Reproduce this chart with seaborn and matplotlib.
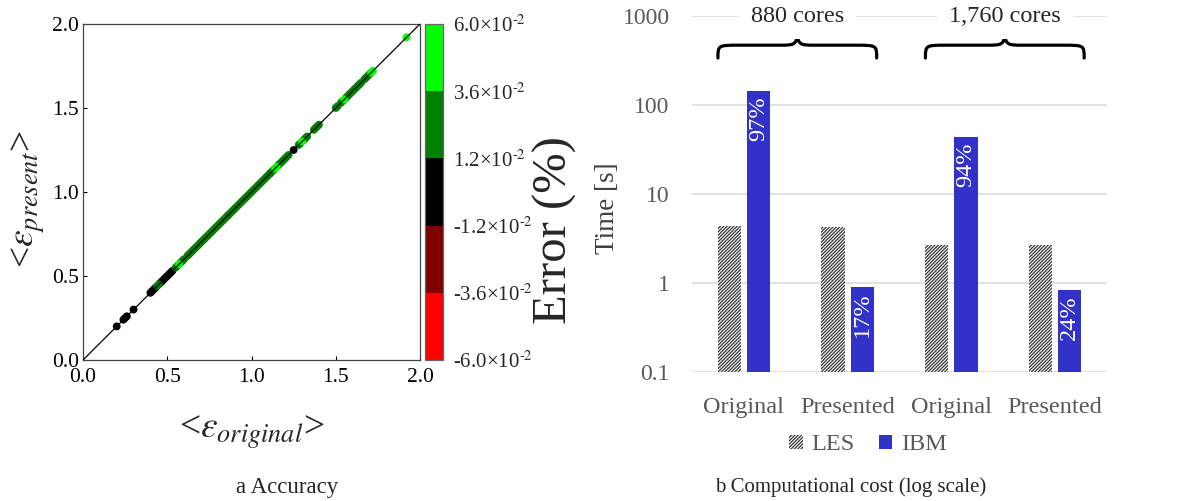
import numpy as np
import pandas as pd
import seaborn as sns
import matplotlib.pyplot as plt
from matplotlib.colors import ListedColormap, BoundaryNorm
from matplotlib.cm import ScalarMappable
from matplotlib.patches import Patch, PathPatch
from matplotlib.path import Path
from matplotlib.transforms import blended_transform_factory

# ---- panel a data: <eps_original> per point, grouped by error band ----
black_pts = [0.20, 0.24, 0.25, 0.26, 0.30, 0.40, 0.41, 0.42, 0.43, 0.46, 0.47,
             0.48, 0.49, 0.50, 0.51, 0.52, 0.53, 0.86, 1.11, 1.25]
dark_green_pts = [0.44, 0.45, 0.55, 0.56, 0.58, 0.59, 0.60, 0.62, 0.63, 0.64, 0.65,
                  0.66, 0.67, 0.68, 0.69, 0.70, 0.71, 0.72, 0.73, 0.74, 0.75, 0.76,
                  0.77, 0.78, 0.79, 0.80, 0.81, 0.82, 0.83, 0.84, 0.85, 0.87, 0.88,
                  0.89, 0.90, 0.91, 0.92, 0.93, 0.94, 0.95, 0.96, 0.97, 0.98, 0.99,
                  1.00, 1.01, 1.02, 1.03, 1.04, 1.05, 1.06, 1.07, 1.08, 1.09, 1.10,
                  1.12, 1.13, 1.16, 1.17, 1.18, 1.19, 1.20, 1.21, 1.22, 1.28, 1.29,
                  1.31, 1.32, 1.33, 1.37, 1.38, 1.39, 1.40, 1.50, 1.51, 1.53, 1.54,
                  1.56, 1.57, 1.58, 1.59, 1.60, 1.61, 1.62, 1.63, 1.64, 1.65, 1.67,
                  1.68, 1.69, 1.70]
bright_green_pts = [0.57, 1.14, 1.15, 1.30, 1.55, 1.71, 1.72, 1.92]
band_error = {'black': 0.0, 'dark_green': 0.024, 'bright_green': 0.045}  # error in %

cbar_bounds = [-0.06, -0.036, -0.012, 0.012, 0.036, 0.06]
cbar_colors = ['#ff0000', '#800000', '#000000', '#008000', '#00ff00']
cbar_labels = ['-6.0×10$^{\\text{-}2}$', '-3.6×10$^{\\text{-}2}$', '-1.2×10$^{\\text{-}2}$',
               '1.2×10$^{\\text{-}2}$', '3.6×10$^{\\text{-}2}$', '6.0×10$^{\\text{-}2}$']

# ---- panel b data ----
cases = ['Original 880', 'Presented 880', 'Original 1760', 'Presented 1760']
case_labels = ['Original', 'Presented', 'Original', 'Presented']
les_time = [4.35, 4.3, 2.65, 2.65]
ibm_time = [143, 0.90, 43.5, 0.83]
ibm_share = ['97%', '17%', '94%', '24%']
core_groups = ['880 cores', '1,760 cores']

sns.set_style('white')
plt.rcParams['font.family'] = ['Liberation Serif', 'DejaVu Serif']
plt.rcParams['mathtext.fontset'] = 'stix'
plt.rcParams['hatch.linewidth'] = 0.9
plt.rcParams['hatch.color'] = '#333333'

W, H = 1184, 501
fig = plt.figure(figsize=(W / 100, H / 100), dpi=100)
ax1 = fig.add_axes([83 / W, 1 - 360 / H, 337 / W, 336 / H])
cax = fig.add_axes([425 / W, 1 - 360 / H, 18 / W, 336 / H])
ax2 = fig.add_axes([692 / W, 1 - 372 / H, 415 / W, 356 / H])

# ---------------- panel a ----------------
rows = []
for band, pts in [('black', black_pts), ('dark_green', dark_green_pts),
                  ('bright_green', bright_green_pts)]:
    for v in pts:
        rows.append({'original': v, 'present': v * (1 + band_error[band] / 100), 'band': band})
acc = pd.DataFrame(rows)
band_colors = {'black': '#000000', 'dark_green': '#008000', 'bright_green': '#00ff00'}
sns.scatterplot(data=acc, x='original', y='present', hue='band', palette=band_colors,
                s=32, linewidth=0, legend=False, ax=ax1, zorder=2)
lims = [0.0, 2.0]
ax1.plot(lims, lims, color='black', lw=0.9, zorder=3)
ax1.set_xlim(lims)
ax1.set_ylim(lims)
ticks = np.arange(0, 2.01, 0.5)
ax1.set_xticks(ticks)
ax1.set_yticks(ticks)
ax1.set_xticklabels([f'{t:.1f}' for t in ticks])
ax1.set_yticklabels([f'{t:.1f}' for t in ticks])
ax1.tick_params(direction='in', length=3, width=0.8, labelsize=15.5,
                colors='black', top=False, right=False, bottom=True, left=True)
ax1.tick_params(axis='x', pad=6)
ax1.tick_params(axis='y', pad=3)
for sp in ax1.spines.values():
    sp.set_color('#444444')
    sp.set_linewidth(0.9)
ax1.set_xlabel('')
ax1.set_ylabel('')
fig.text(252 / W, 1 - 432 / H, r'<$\varepsilon_{original}$>', fontsize=27,
         ha='center', va='center')
fig.text(28 / W, 1 - 199 / H, r'<$\varepsilon_{present}$>', fontsize=27,
         ha='center', va='center', rotation=90)

cmap = ListedColormap(cbar_colors)
norm = BoundaryNorm(cbar_bounds, cmap.N)
cb = fig.colorbar(ScalarMappable(norm=norm, cmap=cmap), cax=cax, ticks=cbar_bounds)
cb.set_ticklabels(cbar_labels)
cax.tick_params(length=0, pad=7, labelsize=15)
cb.outline.set_edgecolor('#666666')
cb.outline.set_linewidth(0.9)
fig.text(555 / W, 1 - 230 / H, 'Error (%)', fontsize=35, rotation=90,
         ha='center', va='center')
fig.text(287 / W, 1 - 488 / H, 'a Accuracy', fontsize=16.5, ha='center', va='center')

# ---------------- panel b ----------------
cost = pd.DataFrame({
    'case': cases * 2,
    'solver': ['LES'] * 4 + ['IBM'] * 4,
    'time': les_time + ibm_time,
})
ibm_blue = '#3232c8'
sns.barplot(data=cost, x='case', y='time', hue='solver', order=cases,
            hue_order=['LES', 'IBM'], palette={'LES': 'white', 'IBM': ibm_blue},
            saturation=1, width=0.56, gap=0.2, legend=False, ax=ax2, zorder=2)
ax2.set_yscale('log')
ax2.set_ylim(0.1, 1000)
ax2.set_xlim(-0.5, 3.5)
for bar in ax2.containers[0]:
    bar.set_hatch('//////////')
    bar.set_edgecolor('#333333')
    bar.set_linewidth(0)
for bar in ax2.containers[1]:
    bar.set_edgecolor(ibm_blue)
    bar.set_linewidth(0)
for bar, lab in zip(ax2.containers[1], ibm_share):
    ax2.annotate(lab, xy=(bar.get_x() + bar.get_width() / 2, bar.get_height()),
                 xytext=(0, -4), textcoords='offset points', rotation=90,
                 ha='center', va='top', color='white', fontsize=17.5, zorder=4)

ax2.set_yticks([0.1, 1, 10, 100, 1000])
ax2.set_yticklabels(['0.1', '1', '10', '100', '1000'])
ax2.yaxis.set_minor_locator(plt.NullLocator())
ax2.set_xticks(range(len(cases)))
ax2.set_xticklabels(case_labels)
ax2.tick_params(axis='y', length=0, pad=16, labelsize=17, colors='#595959')
ax2.tick_params(axis='x', length=0, pad=18, labelsize=17.5, colors='#595959')
ax2.grid(axis='y', color='#dcdcdc', lw=1.2, zorder=0)
ax2.set_axisbelow(True)
sns.despine(ax=ax2, left=True, bottom=True)
ax2.set_xlabel('')
ax2.set_ylabel('')
fig.text(607 / W, 1 - 208 / H, 'Time [s]', fontsize=19.5, rotation=90,
         ha='center', va='center', color='#404040')

# group braces and core labels
tr = blended_transform_factory(ax2.transData, ax2.transAxes)
y_end, y_mid, y_tip = 0.882, 0.918, 0.958
r_end, r_mid = 0.21, 0.17
for gi, label in enumerate(core_groups):
    x0 = 2 * gi - 0.25
    x1 = 2 * gi + 1.28
    xm = (x0 + x1) / 2
    verts = [(x0, y_end), (x0, y_mid), (x0, y_mid), (x0 + r_end, y_mid),
             (xm - r_mid, y_mid), (xm - 0.03, y_mid), (xm, y_mid), (xm, y_tip),
             (xm, y_mid), (xm + 0.03, y_mid), (xm + r_mid, y_mid),
             (x1 - r_end, y_mid), (x1, y_mid), (x1, y_mid), (x1, y_end)]
    codes = [Path.MOVETO, Path.CURVE4, Path.CURVE4, Path.CURVE4,
             Path.LINETO, Path.CURVE4, Path.CURVE4, Path.CURVE4,
             Path.CURVE4, Path.CURVE4, Path.CURVE4,
             Path.LINETO, Path.CURVE4, Path.CURVE4, Path.CURVE4]
    ax2.add_patch(PathPatch(Path(verts, codes), transform=tr, fill=False,
                            lw=2.3, edgecolor='black', clip_on=False, zorder=3,
                            capstyle='round', joinstyle='round'))
    ax2.text(xm, 1000, label, fontsize=17.5, ha='center', va='center', zorder=3,
             bbox=dict(boxstyle='square,pad=0.5', fc='white', ec='none'))

handles = [Patch(facecolor='white', edgecolor='#333333', hatch='//////////', lw=0),
           Patch(facecolor=ibm_blue, edgecolor=ibm_blue, lw=0)]
leg = fig.legend(handles, ['LES', 'IBM'], loc='center', bbox_to_anchor=(868 / W, 1 - 445 / H),
                 ncol=2, frameon=False, fontsize=17.5, handlelength=0.55, handleheight=0.55,
                 handletextpad=0.35, columnspacing=1.0, labelcolor='#595959')
fig.text(851 / W, 1 - 487 / H, 'b Computational cost (log scale)', fontsize=15,
         ha='center', va='center')

fig.savefig('out.png', dpi=100)
